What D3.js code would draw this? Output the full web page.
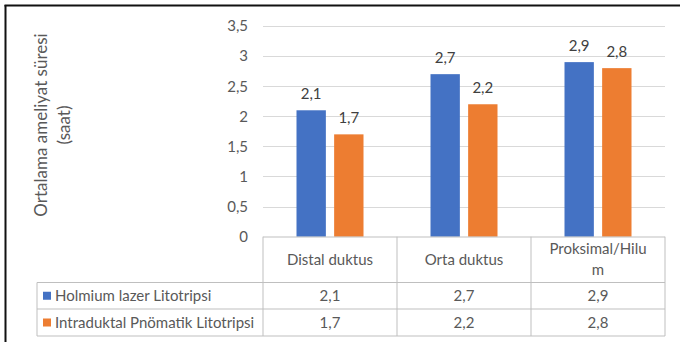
<!DOCTYPE html>
<html>
<head>
<meta charset="utf-8">
<script src="https://cdn.jsdelivr.net/npm/d3@7"></script>
<style>
  html, body { margin: 0; padding: 0; background: #fff; }
  svg { display: block; }
  text { font-family: Lato, "Open Sans", sans-serif; }
</style>
</head>
<body>
<svg id="chart" width="680" height="342"></svg>
<script>
// Mean operation time by stone location, two lithotripsy methods
const categories = ["Distal duktus", "Orta duktus", "Proksimal/Hilum"];
const categoryLines = [["Distal duktus"], ["Orta duktus"], ["Proksimal/Hilu", "m"]];
const seriesNames = ["Holmium lazer Litotripsi", "Intraduktal Pnömatik Litotripsi"];
const holmiumValues = [2.1, 2.7, 2.9];
const pnomatikValues = [1.7, 2.2, 2.8];
const yTicks = [0, 0.5, 1, 1.5, 2, 2.5, 3, 3.5];
const seriesColors = ["#4472c4", "#ed7d31"];
const yTitleLines = ["Ortalama  ameliyat süresi", "(saat)"];

const seriesValues = [holmiumValues, pnomatikValues];
const fmt = v => String(v).replace(".", ",");
const FS = "15px";

const svg = d3.select("#chart");
svg.append("rect").attr("width", 680).attr("height", 342).attr("fill", "#fff");

// outer frame (left and top edges)
svg.append("line").attr("x1", 5.5).attr("x2", 5.5).attr("y1", 5).attr("y2", 342)
  .attr("stroke", "#111").attr("stroke-width", 2);
svg.append("line").attr("x1", 4.5).attr("x2", 680).attr("y1", 5.5).attr("y2", 5.5)
  .attr("stroke", "#111").attr("stroke-width", 2);

const plotLeft = 263, plotRight = 665, plotTop = 26, plotBottom = 236.7;
const tableLeft = 37, headerBottom = 282.5, rowLine = 309, tableBottom = 336;

const x = d3.scaleBand().domain(categories).range([plotLeft, plotRight]).padding(0);
const x1 = d3.scaleBand().domain(seriesNames).range([0, x.bandwidth()])
  .paddingInner(0.22).paddingOuter(0.89);
const y = d3.scaleLinear().domain([0, 3.5]).range([plotBottom, plotTop]);

// gridlines
svg.append("g").selectAll("line").data(yTicks.filter(t => t > 0)).join("line")
  .attr("x1", plotLeft).attr("x2", plotRight)
  .attr("y1", d => Math.round(y(d)) + 0.5).attr("y2", d => Math.round(y(d)) + 0.5)
  .attr("stroke", "#d9d9d9").attr("stroke-width", 1);

// y axis labels
const yAxis = d3.axisLeft(y).tickValues(yTicks).tickFormat(fmt).tickSize(0).tickPadding(15);
const yg = svg.append("g").attr("transform", `translate(${plotLeft},0)`).call(yAxis);
yg.select(".domain").remove();
yg.selectAll("text").attr("fill", "#595959").style("font-size", FS)
  .style("font-family", "Lato, sans-serif");

// y axis title
const yt = svg.append("text")
  .attr("transform", `translate(47,125) rotate(-90)`)
  .attr("text-anchor", "middle").attr("fill", "#595959").style("font-size", "17px");
yTitleLines.forEach((l, i) => {
  yt.append("tspan").attr("x", 0).attr("y", i * 23).text(l);
});

// bars
const groups = svg.append("g").selectAll("g").data(categories).join("g")
  .attr("transform", d => `translate(${x(d)},0)`);
groups.selectAll("rect")
  .data((c, ci) => seriesNames.map((s, si) => ({ s, si, v: seriesValues[si][ci] })))
  .join("rect")
  .attr("x", d => x1(d.s)).attr("width", x1.bandwidth())
  .attr("y", d => y(d.v)).attr("height", d => y(0) - y(d.v))
  .attr("fill", d => seriesColors[d.si]);
groups.selectAll("text.val")
  .data((c, ci) => seriesNames.map((s, si) => ({ s, si, v: seriesValues[si][ci] })))
  .join("text").attr("class", "val")
  .attr("x", d => x1(d.s) + x1.bandwidth() / 2).attr("y", d => y(d.v) - 11)
  .attr("text-anchor", "middle").attr("fill", "#404040").style("font-size", FS)
  .text(d => fmt(d.v));

// data table
const tg = svg.append("g").attr("stroke", "#bfbfbf").attr("stroke-width", 1).attr("fill", "none");
tg.append("line").attr("x1", plotLeft).attr("x2", plotRight).attr("y1", plotBottom + 0.3).attr("y2", plotBottom + 0.3);
[headerBottom, rowLine, tableBottom].forEach(yy => {
  tg.append("line").attr("x1", tableLeft).attr("x2", plotRight).attr("y1", yy).attr("y2", yy);
});
tg.append("line").attr("x1", tableLeft).attr("x2", tableLeft).attr("y1", headerBottom).attr("y2", tableBottom);
[...categories.map(c => x(c)), plotRight].forEach(xx => {
  tg.append("line").attr("x1", xx).attr("x2", xx).attr("y1", plotBottom).attr("y2", tableBottom);
});

// header cells
categories.forEach((c, i) => {
  const lines = categoryLines[i];
  const cy = (plotBottom + headerBottom) / 2;
  const t = svg.append("text").attr("text-anchor", "middle").attr("fill", "#595959")
    .style("font-size", FS);
  lines.forEach((l, j) => {
    t.append("tspan").attr("x", x(c) + x.bandwidth() / 2)
      .attr("y", cy + 5 + (j - (lines.length - 1) / 2) * 21).text(l);
  });
});

// series rows
const rowTops = [headerBottom, rowLine];
const rowBottoms = [rowLine, tableBottom];
seriesNames.forEach((s, si) => {
  const cy = (rowTops[si] + rowBottoms[si]) / 2;
  svg.append("rect").attr("x", 43).attr("y", cy - 4).attr("width", 8).attr("height", 8)
    .attr("fill", seriesColors[si]);
  svg.append("text").attr("x", 55).attr("y", cy + 5).attr("fill", "#595959")
    .style("font-size", FS).text(s);
  categories.forEach((c, ci) => {
    svg.append("text").attr("x", x(c) + x.bandwidth() / 2).attr("y", cy + 5)
      .attr("text-anchor", "middle").attr("fill", "#595959").style("font-size", FS)
      .text(fmt(seriesValues[si][ci]));
  });
});
</script>
</body>
</html>
